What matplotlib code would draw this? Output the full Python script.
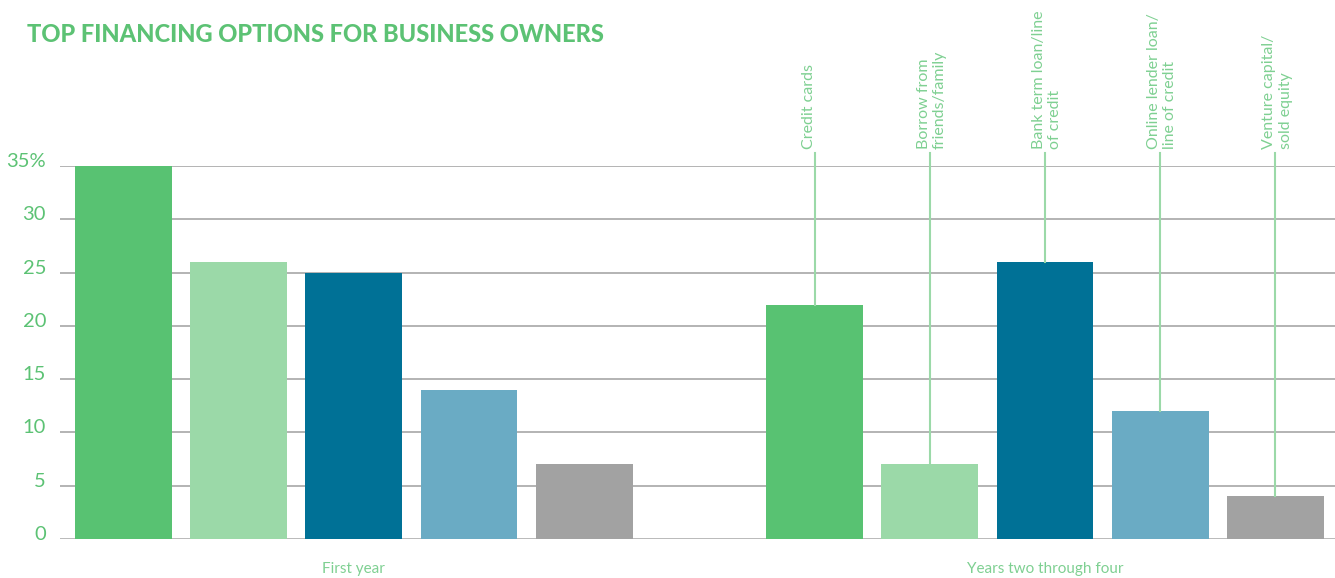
import matplotlib
matplotlib.use("Agg")
import matplotlib.pyplot as plt
import matplotlib.transforms as mtransforms

plt.rcParams['font.family'] = ['Lato', 'DejaVu Sans']

# Data
groups = ["First year", "Years two through four"]
options = ["Credit cards", "Borrow from\nfriends/family", "Bank term loan/line\nof credit",
           "Online lender loan/\nline of credit", "Venture capital/\nsold equity"]
first_year = [35, 26, 25, 14, 7]
years_two_four = [22, 7, 26, 12, 4]
yticks = [0, 5, 10, 15, 20, 25, 30, 35]
ytick_labels = ["0", "5", "10", "15", "20", "25", "30", "35%"]

colors = ["#58c272", "#9bd9a8", "#007196", "#6aabc4", "#a2a2a2"]
green_text = "#5cc274"
light_text = "#7fd092"
leader_color = "#9bd9a8"

W, H = 1335, 578
fig = plt.figure(figsize=(W / 100, H / 100), dpi=100)
ax = fig.add_axes([60 / W, (H - 539) / H, (W - 60) / W, (539 - 166) / H])

pos1 = list(range(5))
pos2 = [p + 6 for p in range(5)]
bw = 0.84
ax.bar(pos1, first_year, width=bw, color=colors, zorder=3)
ax.bar(pos2, years_two_four, width=bw, color=colors, zorder=3)

ax.set_xlim(-0.551, 10.517)
ax.set_ylim(0, 35)

for s in ax.spines.values():
    s.set_visible(False)
ax.set_xticks([])
ax.set_yticks(yticks)
ax.set_yticklabels(ytick_labels)
for t in yticks:
    ax.axhline(t, color="#b3b3b3", lw=2.0 if t == 0 else 1.4, zorder=1)

up = mtransforms.ScaledTranslation(0, 6 / 100, fig.dpi_scale_trans)
ax.tick_params(axis="y", length=0, pad=10, labelsize=14.5, labelcolor=green_text)
for lab in ax.get_yticklabels():
    lab.set_transform(lab.get_transform() + up)

# Group captions under each cluster
ax.text(sum(pos1) / 5, -2.8, groups[0], ha="center", va="center",
        fontsize=11, color=light_text)
ax.text(sum(pos2) / 5, -2.8, groups[1], ha="center", va="center",
        fontsize=11, color=light_text)

# Leader lines and rotated labels above the second cluster
line_top = 36.2
left_shift = mtransforms.ScaledTranslation(-13 / 100, 0, fig.dpi_scale_trans)
for x, v, name in zip(pos2, years_two_four, options):
    ax.plot([x, x], [v, line_top], color=leader_color, lw=1.5, zorder=4, clip_on=False)
    ax.text(x, line_top + 0.4, name, rotation=90, rotation_mode="anchor",
            ha="left", va="top", multialignment="left", fontsize=11.5,
            color=light_text, linespacing=1.2,
            transform=ax.transData + left_shift, clip_on=False)

fig.text(27 / W, 1 - 35 / H, "TOP FINANCING OPTIONS FOR BUSINESS OWNERS",
         ha="left", va="center", fontsize=17, fontweight="black", color=green_text)

fig.savefig("out.png", dpi=100)
